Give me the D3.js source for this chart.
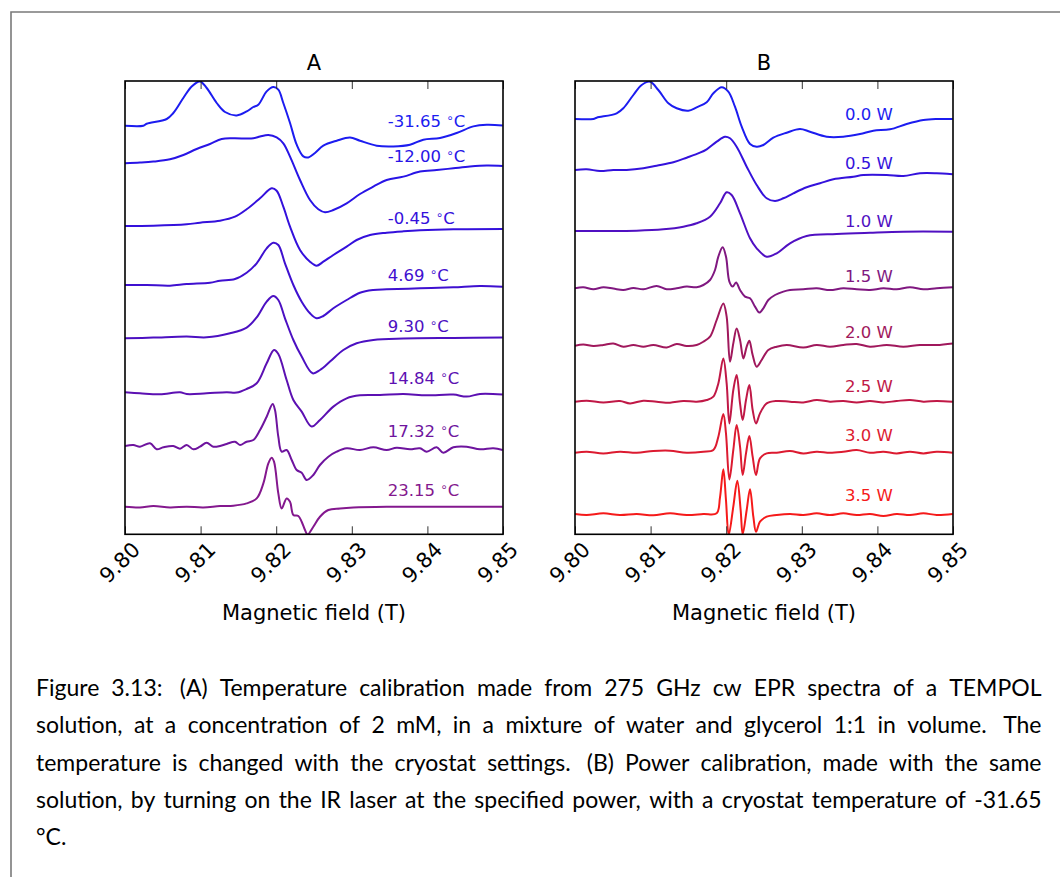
<!DOCTYPE html>
<html><head><meta charset="utf-8">
<script src="https://cdn.jsdelivr.net/npm/d3@7"></script>
<style>body{margin:0;background:#fff}svg{display:block}</style>
</head><body>
<svg id="fig" width="1060" height="877"></svg>
<script>
// ---------- data ----------
const fieldTicks = [9.80, 9.81, 9.82, 9.83, 9.84, 9.85];
const tickLabels = ["9.80", "9.81", "9.82", "9.83", "9.84", "9.85"];
const axisTitle = "Magnetic field (T)";
const temperatures = ["-31.65", "-12.00", "-0.45", "4.69", "9.30", "14.84", "17.32", "23.15"];
const powers = ["0.0", "0.5", "1.0", "1.5", "2.0", "2.5", "3.0", "3.5"];

// vertical offsets of each trace (a.u.)
const offsetsA = [40.86, 37.1, 30.83, 24.93, 19.6, 14.2, 8.83, 2.76];
const offsetsB = [41.53, 36.43, 30.33, 24.6, 18.86, 13.26, 8.16, 2.03];
// annotation heights (a.u.)
const labelYA = [40.76, 37.26, 31.03, 25.36, 20.2, 15.03, 9.76, 3.83];
const labelYB = [41.43, 36.53, 30.76, 25.26, 19.6, 14.26, 9.33, 3.36];

const colorsA = ["#1c1cf0", "#2814e6", "#3410dc", "#3f10d0", "#4c10c2", "#5c10b2", "#6e149e", "#84188e"];
const colorsB = ["#1c1cf0", "#3412dc", "#5010c2", "#801880", "#a0185c", "#c01846", "#dc1a30", "#f51a1a"];

// spectra: [field (T), intensity (a.u.)]
const specA1 = [[9.80000,0],[9.80242,0],[9.80287,0.2],[9.80552,0.67],[9.80639,1.27],[9.80771,2.77],[9.80882,3.93],[9.80992,4.43],[9.81081,3.77],[9.81213,2.27],[9.81323,1.37],[9.81478,1.03],[9.81610,1.43],[9.81697,1.87],[9.81763,2.1],[9.81874,3.43],[9.81962,3.87],[9.82028,3.6],[9.82094,2.27],[9.82183,0.27],[9.82271,-1.9],[9.82359,-3.07],[9.82425,-3.17],[9.82513,-2.73],[9.82623,-2.0],[9.82800,-1.5],[9.82976,-1.17],[9.83108,-1.5],[9.83329,-2.0],[9.83549,-2.07],[9.83770,-1.9],[9.83946,-1.4],[9.84167,-1.23],[9.84387,-0.73],[9.84607,-0.07],[9.84784,0.1],[9.84996,0.03]];
const specA2 = [[9.80000,0],[9.80198,0.07],[9.80375,0.17],[9.80595,0.4],[9.80772,0.83],[9.80948,1.43],[9.81124,1.93],[9.81279,2.43],[9.81433,2.5],[9.81698,2.5],[9.81786,2.67],[9.81896,2.83],[9.82006,2.6],[9.82094,2.0],[9.82183,0.67],[9.82315,-1.67],[9.82447,-3.67],[9.82557,-4.6],[9.82646,-4.9],[9.82756,-4.67],[9.82932,-4.0],[9.83108,-3.07],[9.83285,-2.33],[9.83461,-1.67],[9.83682,-1.33],[9.83902,-0.83],[9.84123,-0.67],[9.84343,-0.5],[9.84563,-0.33],[9.84784,-0.23],[9.84996,-0.27]];
const specA3 = [[9.80000,0],[9.80375,0.03],[9.80816,0.17],[9.80992,0.33],[9.81257,0.53],[9.81455,0.93],[9.81609,1.67],[9.81786,2.77],[9.81940,3.77],[9.82006,3.53],[9.82094,1.93],[9.82183,-0.07],[9.82315,-2.4],[9.82447,-3.57],[9.82535,-3.97],[9.82623,-3.57],[9.82756,-2.9],[9.82932,-2.07],[9.83064,-1.4],[9.83241,-0.9],[9.83461,-0.67],[9.83682,-0.53],[9.83902,-0.43],[9.84343,-0.33],[9.84996,-0.3]];
const specA4 = [[9.80000,0],[9.80287,0],[9.80595,-0.07],[9.80816,0.1],[9.81124,0.23],[9.81257,0.43],[9.81455,0.6],[9.81609,1.23],[9.81742,2.17],[9.81874,3.67],[9.81962,4.23],[9.82028,4.0],[9.82116,2.17],[9.82227,0],[9.82337,-1.67],[9.82447,-2.83],[9.82535,-3.33],[9.82623,-3.1],[9.82756,-2.33],[9.82932,-1.5],[9.83108,-0.77],[9.83285,-0.5],[9.83461,-0.43],[9.83902,-0.33],[9.84343,-0.23],[9.84696,-0.1],[9.84996,-0.17]];
const specA5 = [[9.80000,0],[9.80375,0.07],[9.80816,0.17],[9.81080,0.1],[9.81389,0.5],[9.81609,1.07],[9.81742,2.1],[9.81874,3.67],[9.81962,4.23],[9.82028,3.83],[9.82116,2.0],[9.82227,-0.17],[9.82337,-1.83],[9.82482,-3.5],[9.82579,-3.17],[9.82712,-2.33],[9.82888,-1.17],[9.83064,-0.5],[9.83285,-0.17],[9.83682,-0.03],[9.84343,0.03],[9.84996,0.07]];
const specA6 = [[9.80000,0],[9.80198,-0.1],[9.80463,-0.2],[9.80728,0],[9.80816,-0.17],[9.81080,-0.1],[9.81345,0],[9.81477,-0.03],[9.81609,0.33],[9.81742,0.9],[9.81874,2.9],[9.81971,4.23],[9.82028,3.83],[9.82138,1.23],[9.82227,-0.77],[9.82337,-1.93],[9.82469,-3.43],[9.82579,-2.77],[9.82756,-1.43],[9.82932,-0.6],[9.83108,-0.3],[9.83373,-0.27],[9.83682,-0.17],[9.83990,-0.3],[9.84343,-0.23],[9.84519,-0.43],[9.84696,-0.17],[9.84996,-0.23]];
const specA7 = [[9.80000,0],[9.80110,0.1],[9.80198,-0.07],[9.80331,0.27],[9.80419,-0.33],[9.80507,-0.13],[9.80639,0],[9.80728,-0.27],[9.80816,0.1],[9.80904,-0.33],[9.80992,-0.07],[9.81080,0.33],[9.81168,-0.07],[9.81257,0],[9.81345,0.2],[9.81455,0.43],[9.81521,0.1],[9.81609,0.43],[9.81698,0.6],[9.81786,1.6],[9.81874,2.93],[9.81953,4.2],[9.81984,3.6],[9.82028,0.93],[9.82072,-0.57],[9.82138,-0.4],[9.82205,-1.4],[9.82271,-2.4],[9.82337,-2.67],[9.82403,-3.4],[9.82491,-2.9],[9.82579,-1.9],[9.82690,-1.07],[9.82800,-0.57],[9.82932,-0.23],[9.83108,-0.4],[9.83285,-0.13],[9.83461,-0.4],[9.83593,-0.17],[9.83770,-0.33],[9.83902,-0.23],[9.83990,-0.57],[9.84123,-0.13],[9.84211,-0.67],[9.84343,-0.13],[9.84519,-0.07],[9.84696,-0.33],[9.84872,-0.23],[9.84996,-0.4]];
const specA8 = [[9.80000,0],[9.80198,-0.07],[9.80375,0.07],[9.80595,-0.07],[9.80816,0],[9.81036,-0.07],[9.81257,0.07],[9.81433,0.1],[9.81609,0.33],[9.81742,0.83],[9.81830,2.33],[9.81896,4.33],[9.81940,4.9],[9.81971,4.5],[9.82028,1.33],[9.82072,-0.17],[9.82138,0.83],[9.82183,0.5],[9.82227,-0.83],[9.82293,-0.93],[9.82337,-1.5],[9.82381,-2.33],[9.82416,-2.77],[9.82491,-2.0],[9.82579,-1.0],[9.82690,-0.33],[9.82844,-0.17],[9.83020,-0.07],[9.83461,0],[9.84343,0],[9.84996,0]];

const specB1 = [[9.80000,0],[9.80243,0],[9.80287,0.13],[9.80551,0.57],[9.80639,1.07],[9.80772,2.4],[9.80882,3.4],[9.80992,3.73],[9.81102,2.9],[9.81235,1.57],[9.81345,1.07],[9.81499,0.83],[9.81609,1.17],[9.81742,1.67],[9.81830,2.57],[9.81940,3.17],[9.82028,2.73],[9.82116,1.23],[9.82205,-0.77],[9.82315,-2.5],[9.82403,-2.77],[9.82491,-2.6],[9.82623,-1.87],[9.82800,-1.37],[9.82976,-1.0],[9.83108,-1.27],[9.83329,-1.77],[9.83549,-1.77],[9.83770,-1.5],[9.83946,-1.17],[9.84167,-1.03],[9.84387,-0.5],[9.84608,-0.1],[9.84784,0],[9.84996,0]];
const specB2 = [[9.80000,0],[9.80154,0.07],[9.80331,-0.1],[9.80507,0],[9.80683,0],[9.80904,0.17],[9.81080,0.43],[9.81301,0.77],[9.81477,1.23],[9.81653,1.73],[9.81742,2.07],[9.81874,2.83],[9.81984,3.33],[9.82050,3.17],[9.82138,2.33],[9.82271,0.33],[9.82403,-1.5],[9.82535,-2.83],[9.82646,-3.1],[9.82756,-2.83],[9.82888,-2.33],[9.83064,-1.73],[9.83241,-1.33],[9.83417,-0.93],[9.83682,-0.67],[9.83814,-0.5],[9.84123,-0.5],[9.84343,-0.6],[9.84563,-0.33],[9.84784,-0.33],[9.84996,-0.43]];
const specB3 = [[9.80000,0],[9.80375,0],[9.80816,0.03],[9.81168,0.17],[9.81433,0.43],[9.81609,0.77],[9.81786,1.43],[9.81918,2.77],[9.82006,3.87],[9.82072,3.6],[9.82183,1.77],[9.82315,-0.73],[9.82403,-1.73],[9.82535,-2.57],[9.82668,-2.23],[9.82844,-1.23],[9.83064,-0.5],[9.83461,-0.3],[9.83902,-0.17],[9.84343,-0.07],[9.84996,-0.07]];
const specB4 = [[9.80000,0],[9.80110,0.1],[9.80243,-0.1],[9.80375,0.1],[9.80507,-0.03],[9.80639,-0.17],[9.80772,0.03],[9.80904,-0.1],[9.81080,0.23],[9.81213,-0.1],[9.81345,0],[9.81477,0.17],[9.81609,0.1],[9.81698,0.33],[9.81786,0.83],[9.81852,1.83],[9.81896,3.17],[9.81953,4.1],[9.81997,3.17],[9.82042,0.67],[9.82086,0.17],[9.82130,0.57],[9.82183,-0.17],[9.82249,-0.83],[9.82315,-1.0],[9.82381,-1.83],[9.82438,-2.43],[9.82491,-2.0],[9.82557,-1.17],[9.82646,-0.67],[9.82756,-0.33],[9.82844,-0.17],[9.83020,-0.1],[9.83197,0],[9.83373,-0.17],[9.83549,0],[9.83726,-0.1],[9.83902,-0.17],[9.84079,0],[9.84255,-0.1],[9.84431,0.1],[9.84608,-0.1],[9.84784,0],[9.84996,0.1]];
const specB5 = [[9.80000,0],[9.80110,0.13],[9.80243,-0.03],[9.80375,0.07],[9.80507,0.23],[9.80639,-0.1],[9.80772,0.07],[9.80904,-0.1],[9.81036,0.07],[9.81213,-0.17],[9.81345,0.17],[9.81477,-0.03],[9.81609,0.07],[9.81698,0.4],[9.81786,0.9],[9.81874,2.57],[9.81962,4.23],[9.82006,2.9],[9.82050,-1.6],[9.82094,0.23],[9.82138,1.73],[9.82183,0.57],[9.82227,-1.27],[9.82271,-0.1],[9.82306,0.5],[9.82350,-0.93],[9.82403,-2.1],[9.82469,-1.43],[9.82557,-0.43],[9.82668,-0.1],[9.82800,0.07],[9.83020,-0.17],[9.83197,0.07],[9.83373,-0.1],[9.83549,0.07],[9.83726,0.17],[9.83902,-0.1],[9.84123,0.07],[9.84343,-0.1],[9.84563,0.07],[9.84784,0.07],[9.84996,0.23]];
const specB6 = [[9.80000,0],[9.80154,0.1],[9.80375,-0.07],[9.80595,0.07],[9.80728,-0.17],[9.80904,0.1],[9.81080,0],[9.81257,-0.1],[9.81433,0.07],[9.81609,0],[9.81742,0.17],[9.81830,0.5],[9.81896,1.83],[9.81962,4.33],[9.82006,1.83],[9.82042,-2.17],[9.82094,1.17],[9.82138,2.67],[9.82183,-0.17],[9.82218,-1.83],[9.82262,0.17],[9.82306,1.67],[9.82350,-0.83],[9.82394,-2.17],[9.82447,-1.17],[9.82535,-0.17],[9.82668,0.07],[9.82844,0],[9.83020,-0.07],[9.83197,0.17],[9.83373,0],[9.83549,0.07],[9.83726,-0.07],[9.83902,0.07],[9.84079,-0.07],[9.84255,0.07],[9.84431,0.17],[9.84608,0],[9.84784,0.07],[9.84996,0]];
const specB7 = [[9.80000,0],[9.80154,0.1],[9.80375,-0.07],[9.80595,0.1],[9.80816,0],[9.81036,0.17],[9.81257,0.2],[9.81477,0],[9.81698,0.1],[9.81830,0.27],[9.81896,1.6],[9.81962,3.87],[9.81997,1.93],[9.82042,-2.67],[9.82094,0.27],[9.82138,2.77],[9.82183,0.6],[9.82218,-2.23],[9.82262,-0.07],[9.82306,1.67],[9.82350,-0.4],[9.82394,-2.23],[9.82447,-0.57],[9.82535,-0.07],[9.82668,0],[9.82844,0.17],[9.83020,-0.07],[9.83197,0.1],[9.83373,0],[9.83549,0.1],[9.83726,0.27],[9.83902,0],[9.84079,0.1],[9.84255,-0.07],[9.84431,0.1],[9.84608,-0.07],[9.84784,0.1],[9.84996,0]];
const specB8 = [[9.80000,0],[9.80154,-0.1],[9.80375,0.07],[9.80595,-0.1],[9.80816,0],[9.81036,-0.13],[9.81257,0.07],[9.81477,-0.1],[9.81698,0],[9.81874,0.07],[9.81918,1.67],[9.81962,4.47],[9.81997,1.4],[9.82033,-2.1],[9.82094,0.73],[9.82147,3.33],[9.82191,0.4],[9.82218,-2.03],[9.82271,0.4],[9.82315,2.47],[9.82359,-0.27],[9.82394,-1.77],[9.82447,-0.77],[9.82535,-0.27],[9.82668,-0.1],[9.82844,0],[9.83020,-0.1],[9.83197,0.07],[9.83373,-0.1],[9.83549,0.07],[9.83726,-0.1],[9.83902,0],[9.84079,-0.2],[9.84255,0],[9.84431,-0.1],[9.84608,0.07],[9.84784,-0.1],[9.84996,0]];

const spectraA = [specA1, specA2, specA3, specA4, specA5, specA6, specA7, specA8];
const spectraB = [specB1, specB2, specB3, specB4, specB5, specB6, specB7, specB8];

const captionLines = [
  "Figure 3.13: (A) Temperature calibration made from 275 GHz cw EPR spectra of a TEMPOL",
  "solution, at a concentration of 2 mM, in a mixture of water and glycerol 1:1 in volume. The",
  "temperature is changed with the cryostat settings. (B) Power calibration, made with the same",
  "solution, by turning on the IR laser at the specified power, with a cryostat temperature of -31.65",
  "°C."
];

// ---------- drawing ----------
const svg = d3.select("#fig");
svg.append("rect").attr("width", 1060).attr("height", 877).attr("fill", "#fff");
svg.append("path").attr("d", "M11,877 L11,12 L1062,12")
  .attr("fill", "none").attr("stroke", "#7a7a7a").attr("stroke-width", 1.6);

const W = 378, H = 453.3, TOP = 81;
const FONT = "'DejaVu Sans', sans-serif";
const x = d3.scaleLinear().domain([9.80, 9.85]).range([0, W]);
const y = d3.scaleLinear().domain([0, 45.33]).range([H, 0]);

const panels = [
  {left: 125, title: "A", spectra: spectraA, offsets: offsetsA, colors: colorsA, labelField: 9.83475, labelY: labelYA, names: temperatures, kind: "T"},
  {left: 575, title: "B", spectra: spectraB, offsets: offsetsB, colors: colorsB, labelField: 9.83571, labelY: labelYB, names: powers, kind: "P"}
];

panels.forEach((p, pi) => {
  const g = svg.append("g").attr("transform", `translate(${p.left},${TOP})`);
  const clipId = "clip" + pi;
  g.append("clipPath").attr("id", clipId).append("rect").attr("x", 0).attr("y", 0).attr("width", W).attr("height", H);

  const traces = g.append("g").attr("clip-path", `url(#${clipId})`);
  p.spectra.forEach((s, i) => {
    const off = p.offsets[i];
    const line = d3.line().x(d => x(d[0])).y(d => y(d[1] + off)).curve(d3.curveCatmullRom.alpha(0.5));
    traces.append("path").datum(s).attr("d", line)
      .attr("fill", "none").attr("stroke", p.colors[i]).attr("stroke-width", 2)
      .attr("stroke-linejoin", "round");
  });

  // labels
  p.names.forEach((n, i) => {
    const t = g.append("text").attr("x", x(p.labelField)).attr("y", y(p.labelY[i]))
      .attr("fill", p.colors[i]).style("font-family", FONT).style("font-size", "16.5px");
    if (p.kind === "T") {
      t.append("tspan").text(n + " ");
      t.append("tspan").text("\u2218").style("font-size", "12px").attr("dy", -5);
      t.append("tspan").text("C").attr("dy", 5);
    } else {
      t.text(n + " W");
    }
  });

  // bottom axis
  const ax = g.append("g").attr("transform", `translate(0,${H})`)
    .call(d3.axisBottom(x).tickValues(fieldTicks).tickSize(-8).tickFormat((d, i) => tickLabels[i]));
  ax.select(".domain").remove();
  ax.selectAll(".tick line").attr("stroke", "#333").attr("stroke-width", 1);
  ax.selectAll(".tick text").attr("y", 0).attr("dy", "0.02em")
    .attr("transform", "translate(-1,33) rotate(-45)").attr("text-anchor", "middle")
    .attr("fill", "#000").style("font-family", FONT).style("font-size", "21px");

  const axT = g.append("g")
    .call(d3.axisTop(x).tickValues(fieldTicks).tickSize(-8).tickFormat(""));
  axT.select(".domain").remove();
  axT.selectAll(".tick line").attr("stroke", "#333").attr("stroke-width", 1);

  g.append("rect").attr("width", W).attr("height", H)
    .attr("fill", "none").attr("stroke", "#000").attr("stroke-width", 1.6);

  g.append("text").attr("x", W / 2).attr("y", -11).attr("text-anchor", "middle")
    .style("font-family", FONT).style("font-size", "21px").text(p.title);
  g.append("text").attr("x", W / 2).attr("y", 539).attr("text-anchor", "middle")
    .style("font-family", FONT).style("font-size", "21px").text(axisTitle);
});

// ---------- caption (justified) ----------
const CAP_LEFT = 36, CAP_RIGHT = 1041.5, CAP_FONT = "Lato, 'Open Sans', sans-serif", CAP_SIZE = 23;
const baselines = [696, 733, 771, 808, 845];
captionLines.forEach((str, li) => {
  const words = str.split(" ");
  const t = svg.append("text").attr("y", baselines[li]).attr("fill", "#000")
    .style("font-family", CAP_FONT).style("font-size", CAP_SIZE + "px");
  const widths = words.map(w => {
    const s = t.append("tspan").text(w);
    const wd = s.node().getComputedTextLength();
    s.remove();
    return wd;
  });
  const justify = li < captionLines.length - 1;
  const weights = words.slice(0, -1).map(w => /[.:]$/.test(w) && !/^\d/.test(w) || w === "3.13:" ? 1.45 : 1);
  const totalW = d3.sum(widths);
  const gapUnit = justify ? (CAP_RIGHT - CAP_LEFT - totalW) / d3.sum(weights) : CAP_SIZE * 0.27;
  let cx = CAP_LEFT;
  words.forEach((w, i) => {
    t.append("tspan").attr("x", cx).text(w);
    cx += widths[i] + (i < weights.length ? weights[i] * gapUnit : 0);
  });
});
</script>
</body></html>
